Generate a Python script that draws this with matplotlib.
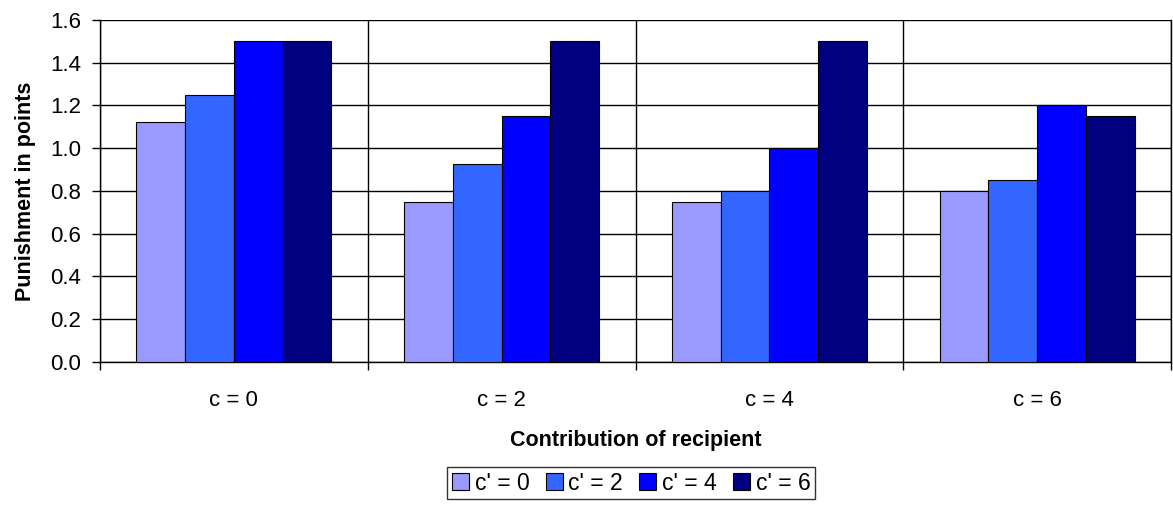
import numpy as np
import matplotlib.pyplot as plt
from matplotlib.ticker import FixedLocator

plt.rcParams['font.family'] = ['Liberation Sans', 'DejaVu Sans']

# contribution of recipient and contribution of punisher
categories = ['c = 0', 'c = 2', 'c = 4', 'c = 6']
series_labels = ["c' = 0", "c' = 2", "c' = 4", "c' = 6"]
c0 = [1.125, 0.75, 0.75, 0.80]
c2 = [1.25, 0.925, 0.80, 0.85]
c4 = [1.50, 1.15, 1.00, 1.20]
c6 = [1.50, 1.50, 1.50, 1.15]
colors = ['#9999FF', '#3366FF', '#0000FF', '#000080']

fig = plt.figure(figsize=(11.73, 5.07), dpi=100)
ax = fig.add_axes([0.0853, 0.286, 0.9130, 0.6746])

x = np.arange(len(categories))
width = 0.182
for i, (vals, lab, col) in enumerate(zip([c0, c2, c4, c6], series_labels, colors)):
    ax.bar(x + (i - 1.5) * width, vals, width, color=col, edgecolor='black',
           linewidth=0.8, label=lab, zorder=3)

ax.set_xlim(-0.5, 3.5)
ax.set_ylim(0, 1.6)
ax.set_yticks(np.arange(0, 1.61, 0.2))
ax.set_yticklabels([f'{v:.1f}' for v in np.arange(0, 1.61, 0.2)], fontsize=16)
ax.set_xticks(x)
ax.set_xticklabels(categories, fontsize=16)
ax.xaxis.set_minor_locator(FixedLocator(np.arange(-0.5, 3.6, 1)))
ax.tick_params(axis='x', which='major', length=0, pad=20)
ax.tick_params(axis='x', which='minor', length=5.8, width=1, direction='out')
ax.tick_params(axis='y', length=5.8, width=1, direction='out', pad=8)

# gridlines
ax.yaxis.grid(True, color='black', linewidth=1, zorder=0)
ax.xaxis.grid(True, which='minor', color='black', linewidth=1, zorder=0)
ax.set_axisbelow(True)
for s in ax.spines.values():
    s.set_linewidth(1)
ax.spines['top'].set_visible(False)

ax.set_ylabel('Punishment in points', fontsize=15.5, fontweight='bold', labelpad=10)
ax.set_xlabel('Contribution of recipient', fontsize=15.5, fontweight='bold', labelpad=14)

leg = fig.legend(loc='center', bbox_to_anchor=(0.538, 0.047), ncol=4, fontsize=16.5,
                 frameon=True, fancybox=False, edgecolor='black',
                 handlelength=0.75, handleheight=0.75, handletextpad=0.25,
                 columnspacing=0.7, borderpad=0.2, borderaxespad=0)
leg.get_frame().set_linewidth(1)

plt.savefig('out.png', dpi=100)
